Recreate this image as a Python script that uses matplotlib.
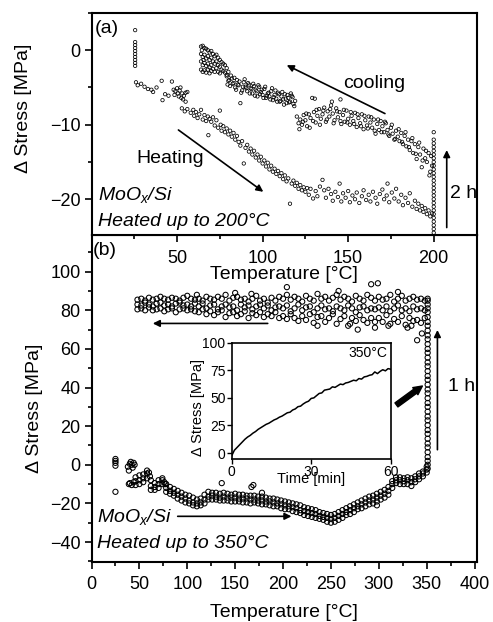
import numpy as np
import matplotlib
matplotlib.use('Agg')
import matplotlib.pyplot as plt
from matplotlib.ticker import MultipleLocator

plt.rcParams['font.family'] = ['Liberation Sans', 'DejaVu Sans']
plt.rcParams['mathtext.fontset'] = 'custom'
plt.rcParams['mathtext.it'] = 'Liberation Sans:italic'
plt.rcParams['mathtext.rm'] = 'Liberation Sans'

# ---------------- panel (a): heated up to 200 C ----------------
start_a_s = [2.7, 1.1, 0.7, 0.3, -0.1, -0.5, -0.9, -1.3, -1.7, -2.1]

heat_a_T = [26, 27, 29, 31, 33, 35, 36, 38, 41, 41.5, 43, 45,
            47, 48, 48.5, 49, 50, 50.5, 51, 51.5, 52, 52.5, 53, 53.5, 54, 55, 56, 55,
            52.8, 54.5, 56, 58, 59.5, 60, 61, 62, 63, 64, 65, 66, 67, 68, 68.3, 69, 70,
            71, 72, 73, 74, 75, 75.5, 76, 77, 78, 79, 80, 81, 82, 83, 84, 85, 86,
            87, 88, 89, 90, 91, 92, 93, 94, 95, 96, 97, 98, 99, 100, 101, 102, 103, 104, 105, 106, 107, 108, 109, 110,
            111, 112, 113, 114, 115, 116, 117, 118, 119, 120, 121, 122, 123, 124, 125, 126,
            127, 128, 129.5, 131, 132, 133.5, 135, 136, 137, 138.5, 140, 141, 142.5, 144, 145, 146, 147, 148.5, 150, 151,
            152.5, 154, 155, 156.5, 158, 159, 160.5, 162, 163, 164.5, 166, 167, 168.5, 170, 171, 172.5, 173, 174, 175.5, 177,
            178, 179.5, 181, 182, 183.5, 185, 186, 187.5, 189, 190, 191,
            192, 193, 194, 195, 196, 197, 198, 199]
heat_a_s = [-4.3, -4.7, -4.5, -4.9, -5.2, -5.3, -5.6, -5.0, -4.1, -6.7, -5.9, -6.1,
            -4.2, -5.3, -6.0, -5.5, -5.1, -5.8, -6.2, -5.4, -5.0, -6.4, -5.8, -6.6, -6.1, -5.7, -5.6, -6.9,
            -7.8, -8.2, -7.9, -8.4, -8.0, -8.8, -8.3, -9.1, -8.6, -8.0, -9.3, -8.7, -9.5, -8.9, -11.4, -9.2, -9.6,
            -9.0, -10.1, -9.4, -10.4, -8.1, -10.0, -10.8, -10.2, -11.0, -10.5, -11.3, -10.8, -11.6, -11.1, -12.0, -11.5, -12.3,
            -12.8, -12.2, -15.2, -13.1, -12.7, -13.6, -13.2, -14.0, -13.5, -14.4, -14.0, -14.8, -14.3, -15.2, -14.8, -15.6,
            -15.1, -16.0, -15.5, -16.3, -15.9, -16.6, -16.2, -16.9,
            -16.5, -17.3, -16.8, -17.6, -17.2, -20.6, -17.9, -17.5, -18.2, -17.8, -18.6, -18.1, -18.8, -18.4, -19.0, -18.5,
            -19.4, -18.6, -19.9, -18.9, -19.6, -18.3, -17.4, -18.8, -19.8, -18.6, -19.3, -20.2, -19.0, -19.7, -17.9, -20.3,
            -19.2, -19.8, -18.9, -20.4, -19.5, -20.0, -19.1, -20.5, -19.6, -18.8, -20.1, -19.4, -20.3, -19.0, -19.8, -20.6,
            -19.3, -18.7, -20.0, -19.5, -17.9, -20.4, -19.1, -19.9, -18.6, -20.3, -19.4, -20.8, -19.8, -20.5, -19.2, -21.0,
            -20.2, -21.3, -20.6,
            -21.5, -20.9, -21.7, -21.2, -22.0, -21.5, -22.3, -21.9]

hold_a_s = [-24.5, -24, -23.5, -23, -22.5, -22, -21.5, -21, -20.5, -20, -19.5, -19, -18.5, -18,
            -17.5, -17, -16.5, -16, -15.5, -15, -14.5, -14, -13.5, -13, -12.5, -12, -11]

cool_a_T = [199, 198.5, 198, 197, 196, 195, 194, 193, 192, 191, 190, 189, 188, 187, 186, 185, 184, 183, 182, 181,
            180, 179, 178, 177, 176, 175, 174, 173, 172, 171, 170, 169, 168, 167, 166, 165, 164, 163, 162, 161,
            160, 159, 158, 157, 156, 155, 154, 153, 152, 151, 150, 149, 148, 147, 146, 145, 144, 143, 142, 141,
            140, 139, 138, 137, 136, 135, 134, 133, 132, 131, 130, 129, 128, 127, 126, 125, 124, 123, 122, 121, 120,
            197.5, 195.5, 193.5, 191.5, 189.5, 187.5, 185.5, 183.5, 181.5, 179.5,
            177.5, 175.5, 173.5, 171.5, 169.5, 167.5, 165.5, 163.5, 161.5, 159.5,
            157.5, 155.5, 153.5, 151.5, 149.5, 147.5, 145.5, 143.5, 141.5, 139.5,
            137.5, 135.5, 133.5, 131.5, 129.5, 127.5, 125.5, 123.5, 121.5, 130.5, 140.5, 145.5]
cool_a_s = [-15.5, -14.2, -16.3, -13.8, -15.0, -14.5, -13.2, -15.7, -14.0, -13.0,
            -14.6, -12.6, -13.8, -12.2, -13.4, -12.0, -12.9, -11.5, -12.6, -11.1,
            -12.2, -11.6, -10.8, -12.0, -11.2, -10.4, -11.5, -10.7, -9.8, -11.0,
            -10.2, -9.5, -10.7, -9.9, -11.2, -9.3, -10.4, -9.7, -8.9, -10.1,
            -9.4, -10.6, -8.6, -9.8, -9.1, -10.3, -8.4, -9.5, -8.8, -10.0,
            -9.2, -8.1, -9.6, -8.7, -9.9, -8.3, -9.0, -7.8, -9.4, -8.5,
            -7.4, -8.9, -8.2, -9.6, -7.7, -8.6, -9.2, -7.9, -8.8, -9.7,
            -8.3, -6.4, -9.1, -8.6, -10.2, -9.4, -8.7, -10.0, -9.3, -9.8, -8.9,
            -16.8, -13.5, -14.8, -12.4, -13.9, -11.8, -13.0, -11.0, -12.3, -10.6,
            -11.9, -10.0, -11.3, -9.6, -11.0, -9.3, -10.8, -9.0, -10.5, -8.8,
            -10.2, -8.6, -9.9, -8.3, -9.7, -8.0, -9.5, -8.2, -9.8, -7.9,
            -9.3, -8.1, -10.0, -8.0, -9.5, -10.4, -8.5, -9.6, -10.6, -6.5, -6.9, -6.6]

cool_a_T2 = [119, 118, 117, 116, 115, 114, 113, 112, 111, 110, 109, 108, 107, 106, 105, 104, 103, 102, 101, 100,
             99, 98, 97, 96, 95, 94, 93, 92, 91, 90, 89, 88, 87, 86, 85, 84, 83, 82, 81, 80, 79,
             118.5, 117.5, 116.5, 115.5, 114.5, 113.5, 112.5, 111.5, 110.5, 109.5,
             108.5, 107.5, 106.5, 105.5, 104.5, 103.5, 102.5, 101.5, 100.5, 99.5,
             98.5, 97.5, 96.5, 95.5, 94.5, 93.5, 92.5, 91.5, 90.5, 89.5,
             88.5, 87.5, 86.5, 85.5, 84.5, 83.5, 82.5, 81.5, 80.5, 79.5]
cool_a_s2 = [-6.8, -7.2, -6.1, -6.9, -6.4, -7.1, -5.9, -6.6, -6.2, -6.9,
             -5.7, -6.5, -6.0, -6.7, -5.5, -6.2, -5.8, -6.4, -5.2, -6.0,
             -5.6, -4.9, -6.2, -5.3, -4.8, -5.8, -5.1, -4.6, -5.5, -4.9,
             -4.3, -5.4, -7.1, -4.7, -4.0, -5.0, -4.4, -3.8, -4.8, -4.1, -3.5,
             -7.5, -6.3, -5.8, -7.0, -6.0, -6.5, -7.3, -5.6, -6.8, -5.9,
             -6.9, -5.4, -6.3, -5.1, -6.6, -5.7, -6.1, -4.9, -6.4, -5.3,
             -5.9, -4.7, -5.5, -6.1, -4.5, -5.2, -5.8, -4.4, -5.1, -3.9,
             -4.9, -5.7, -4.2, -4.6, -5.3, -3.7, -4.5, -3.4, -4.0, -4.6]

blob_a_T = [64, 64, 64, 64, 64.5, 65, 65, 65, 65, 65.5, 66, 66, 66, 66, 67, 67, 67, 67,
            68, 68, 68, 68, 69, 69, 69, 69, 70, 70, 70, 70, 71, 71, 71, 72, 72, 72,
            73, 73, 73, 74, 74, 74, 75, 75, 75, 76, 76, 77, 77, 78, 78, 79, 79, 80]
blob_a_s = [0.5, -0.5, -1.5, -2.6, 0.0, 0.6, -0.9, -2.0, -2.9, -1.3, 0.3, -0.6, -1.7, -2.7,
            0.2, -1.1, -2.1, -3.0, 0.0, -0.8, -1.8, -2.6, -0.3, -1.3, -2.3, -3.1,
            -0.1, -1.0, -2.0, -2.8, -0.5, -1.5, -2.5, -0.8, -1.8, -2.9, -0.6, -1.5, -2.4,
            -1.0, -2.0, -2.9, -1.3, -2.2, -3.1, -1.6, -2.6, -1.8, -2.8, -2.0, -3.0, -2.4, -3.3, -2.9]

# ---------------- panel (b): heated up to 350 C ----------------
heat_b_T = [46, 50, 54, 58, 62, 66, 70, 74, 78, 82, 86, 90, 94, 98, 102, 106, 110, 114, 118, 122,
            126, 130, 134, 138, 142, 146, 150, 154, 158, 162, 166, 170, 174, 178, 182, 186, 190, 194, 198, 202,
            206, 210, 214, 218, 222, 226, 230, 234, 238, 242, 246, 250, 254, 258, 262, 266, 270, 274, 278, 282,
            286, 290, 294, 298, 302, 306, 310, 314, 318, 322, 326, 330, 334, 338, 342, 346, 350]
heat_b_mid = [-8.5, -8, -7, -4.5, -11, -11.5, -10, -8, -12, -13.5, -14.5, -15.5, -16.5, -17.5, -18.5, -19.5, -20, -19.5, -18, -16.5,
              -16, -16.5, -17, -16.5, -17, -17, -17, -17.5, -17.5, -17.5, -18, -18, -18.5, -18.5, -19, -19, -19.5, -20, -20.5, -21,
              -21.5, -22, -22.5, -23.5, -24, -24.5, -25, -25.5, -26.5, -27, -27.5, -28, -27.5, -26.5, -25.5, -24.5, -23.5, -22.5, -21.5, -20.5,
              -19.5, -18.5, -18, -17, -16, -15, -13.5, -10, -8, -8, -8.5, -8, -9, -7.5, -6, -4.5, -2.5]
heat_b_hi = [-6.5, -5.5, -5, -3, -8, -9.5, -8, -7, -10, -11.5, -12.5, -13.5, -14.5, -15.5, -16, -17, -18, -17.5, -15.5, -14,
             -14.5, -14.5, -15, -14.5, -15, -15.5, -15, -15.5, -15.5, -16, -16, -16, -16.5, -16.5, -17, -17.5, -17.5, -18, -18.5, -19,
             -19.5, -20, -20.5, -21, -22, -22.5, -23, -23.5, -24.5, -25, -25.5, -26, -25.5, -24.5, -23.5, -22.5, -21.5, -20.5, -19.5, -18.5,
             -17.5, -16.5, -16, -15, -14, -13, -11.5, -8.5, -6.5, -6.5, -7, -6.5, -7, -6, -4.5, -3.5, -1]
heat_b_lo = [-10.5, -10, -9, -7, -13, -13, -12, -10, -14, -15, -16, -17.5, -18.5, -19.5, -20, -21, -21.5, -21, -20, -18,
             -18, -18, -18.5, -18.5, -18.5, -19, -19, -19, -19.5, -19.5, -20, -19.5, -20, -20.5, -20.5, -21, -21.5, -21.5, -22.5, -23,
             -23, -24, -24.5, -25, -26, -26.5, -27, -27.5, -28, -28.5, -29.5, -30, -29.5, -28.5, -27.5, -26, -25.5, -24.5, -23, -22.5,
             -21.5, -20.5, -20, -19, -18, -17, -15.5, -12, -9.5, -10, -10, -10, -11, -9, -7.5, -6, -4]
heat_b_xT = [25, 25, 25, 25, 25, 38, 39, 40, 41, 42, 43, 44, 45, 40, 42, 44, 39, 136, 167, 169, 178, 298, 60, 61, 76, 77]
heat_b_xs = [3, 2, 1, -0.5, -14, -1, -3, 0.5, 1.5, 0, -1.5, 1, 0, -9.5, -10.5, -9, -10, -9.5, -11.5, -10.5, -14.5, -21,
             -4, -6, -9, -10]

hold_b_s = [-2, 0, 2, 4, 6.5, 9, 11, 13.5, 16, 18, 20.5, 23, 25, 27.5, 30, 32, 34.5, 37, 39, 41.5, 44, 46, 48.5,
            51, 53, 55.5, 58, 60, 62.5, 65, 67, 69.5, 72, 74, 76.5, 79, 81, 83, 85, 86]

cool_b_T = [48, 52, 56, 60, 64, 68, 72, 76, 80, 84, 88, 92, 96, 100, 104, 108,
            112, 116, 120, 124, 128, 132, 136, 140, 144, 148, 152, 156, 160, 164, 168, 172, 176, 180, 184, 188, 192, 196,
            200, 204, 208, 212, 216, 220, 224, 228, 232, 236, 240, 244, 248, 252, 256, 260, 264, 268, 272, 276, 280, 284, 288, 292, 296,
            300, 304, 308, 312, 316, 320, 324, 328, 332, 336, 340, 344, 348]
cool_b_hi = [85.5, 86, 85, 86.5, 85.5, 86, 87, 86, 85.5, 86.5, 86, 85, 86.5, 87.5, 86, 85.5,
             86, 85, 87, 86, 85.5, 87, 86, 88, 85, 86.5, 87, 85.5, 86, 84.5, 86, 87.5, 85, 86, 84, 86.5, 85, 87,
             86, 88, 85.5, 87, 86, 84.5, 87.5, 86, 85, 88.5, 86, 87, 85, 86.5, 88, 85.5, 87, 86, 84.5, 87.5, 86, 85, 88, 86.5, 85,
             87, 85.5, 86, 88, 84.5, 86, 87.5, 85, 86, 87, 85.5, 86, 85]
cool_b_mid = [83, 82.5, 84, 83, 82, 83.5, 84, 82.5, 83, 82, 83.5, 84, 82.5, 83, 82, 83.5,
              82, 83.5, 81, 82.5, 83, 80.5, 82, 83, 81.5, 82, 80, 83, 81.5, 82.5, 80.5, 82, 83, 81, 82.5, 80, 81.5, 82,
              81, 82.5, 79.5, 81, 83, 80, 81.5, 82, 79, 81, 82.5, 80.5, 81, 79.5, 82, 81, 80, 82.5, 81, 79, 81.5, 82, 80, 81, 80.5,
              81.5, 80, 82, 79.5, 81, 82.5, 80, 81, 79.5, 82, 80.5, 81, 80]
cool_b_lo = [80.5, 81, 80, 81.5, 80, 80.5, 81, 79.5, 80.5, 81, 79, 80.5, 81, 80, 80.5, 79.5,
             79, 80.5, 78, 79.5, 77.5, 79, 80, 76.5, 78.5, 79, 77, 78, 79.5, 76, 78.5, 77.5, 79, 76.5, 78, 77, 79, 76,
             77, 75.5, 78, 76, 74.5, 77, 75, 78, 73.5, 76.5, 77, 74, 76, 78, 73, 75.5, 77, 72, 76, 74.5, 77.5, 75, 73.5, 76, 74,
             76, 74, 77.5, 73, 75.5, 74, 77, 72.5, 76, 74.5, 75, 73.5, 76]
cool_b_xT = [110, 150, 167, 204, 236, 258, 270, 278, 292, 296, 299, 310, 320, 330, 334, 340, 345]
cool_b_xs = [88, 89, 88.5, 92, 72, 90, 73, 70, 93.5, 71, 94, 72, 89.5, 71, 72, 64.5, 68]

# inset: stress vs time at 350 C
inset_t = [0, 0.5, 1, 2, 3, 4, 5, 6, 7, 8, 9, 10, 11, 12, 13, 14, 15, 16, 17, 18, 19, 20,
           21, 22, 23, 24, 25, 26, 27, 28, 29, 30, 31, 32, 33, 34, 35, 36, 37, 38, 39, 40,
           41, 42, 43, 44, 45, 46, 47, 48, 49, 50, 51, 52, 53, 54, 55, 56, 57, 58, 59, 60]
inset_s = [-2.5, 0, 2.5, 5, 7.5, 10, 12.5, 14.5, 16, 18, 19.5, 21.5, 23, 24.5, 26, 27, 28.5, 30, 31, 32.5, 33.5, 35,
           36.5, 37, 39, 40, 42, 42.5, 44.5, 46, 47, 49.5, 50, 52, 54, 54.5, 57, 57.5, 58, 60, 59.5, 61,
           62.5, 62, 63.5, 64, 65, 66, 65.5, 67.5, 67, 69, 69.5, 70.5, 71, 73.5, 72, 74, 75.5, 74.5, 76.5, 76]

W, H = 493, 622
fig = plt.figure(figsize=(W / 100, H / 100), dpi=100)

# ---- panel b (drawn first, panel a labels sit on top of it) ----
axb = fig.add_axes([91.5 / W, 1 - 561.7 / H, 385 / W, 326.7 / H])
mk_b = dict(s=14, facecolors='none', edgecolors='k', linewidths=0.75)
axb.scatter(cool_b_T, cool_b_lo, **mk_b)
axb.scatter(cool_b_T, cool_b_hi, **mk_b)
axb.scatter(cool_b_T, cool_b_mid, **mk_b)
axb.scatter(cool_b_xT, cool_b_xs, **mk_b)
axb.scatter(heat_b_T, heat_b_lo, **mk_b)
axb.scatter(heat_b_T, heat_b_hi, **mk_b)
axb.scatter(heat_b_T, heat_b_mid, **mk_b)
axb.scatter(heat_b_xT, heat_b_xs, **mk_b)
axb.scatter([351] * len(hold_b_s), hold_b_s, **mk_b)

axb.set_xlim(0, 402)
axb.set_ylim(-50.2, 119)
axb.xaxis.set_major_locator(MultipleLocator(50))
axb.xaxis.set_minor_locator(MultipleLocator(25))
axb.set_yticks([-40, -20, 0, 20, 40, 60, 80, 100])
axb.yaxis.set_minor_locator(MultipleLocator(10))
axb.tick_params(which='both', direction='out', width=1.2, labelsize=13, pad=3)
axb.tick_params(which='major', length=5)
axb.tick_params(which='minor', length=3)
axb.tick_params(axis='x', pad=5)
for sp in axb.spines.values():
    sp.set_linewidth(1.5)
axb.set_xlabel('Temperature [°C]', fontsize=14, labelpad=8)
axb.set_ylabel('Δ Stress [MPa]', fontsize=14)
axb.yaxis.set_label_coords(-0.126, 0.468)

axb.text(0.035, 0.954, '(b)', transform=axb.transAxes, fontsize=14, ha='center', va='center')
axb.text(0.013, 0.138, 'MoO$_x$/Si', transform=axb.transAxes, fontsize=14, style='italic', va='center')
axb.text(0.013, 0.057, 'Heated up to 350°C', transform=axb.transAxes, fontsize=14, style='italic', va='center')
arr = dict(arrowstyle='-|>', color='k', lw=1.2, mutation_scale=10, shrinkA=0, shrinkB=0)
axb.annotate('', xy=(64, 73.2), xytext=(184, 73.2), arrowprops=arr)
axb.annotate('', xy=(208.8, -26.7), xytext=(90, -26.7), arrowprops=arr)
axb.annotate('', xy=(361.2, 69.8), xytext=(361.2, 7.8), arrowprops=arr)
axb.text(372.2, 40.5, '1 h', fontsize=14, ha='left', va='center')
axb.annotate('', xy=(345.5, 40.8), xytext=(318.4, 31),
             arrowprops=dict(arrowstyle='simple,head_length=0.7,head_width=0.7,tail_width=0.4',
                             color='k', mutation_scale=9, shrinkA=0, shrinkB=0))

# ---- inset ----
axi = fig.add_axes([231.7 / W, 1 - 459 / H, 159 / W, 116.3 / H])
axi.plot(inset_t, inset_s, color='k', lw=1.1)
axi.set_xlim(0, 60)
axi.set_ylim(-5.4, 100)
axi.set_xticks([0, 30, 60])
axi.set_yticks([0, 25, 50, 75, 100])
axi.tick_params(direction='out', length=3.5, width=1, labelsize=10, pad=1)
for sp in axi.spines.values():
    sp.set_linewidth(1.2)
axi.set_xlabel('Time [min]', fontsize=10.5)
axi.xaxis.set_label_coords(0.5, -0.115)
axi.set_ylabel('Δ Stress [MPa]', fontsize=10.5)
axi.yaxis.set_label_coords(-0.17, 0.44)
axi.text(0.98, 0.91, '350°C', transform=axi.transAxes, fontsize=10, ha='right', va='center')

# ---- panel a ----
axa = fig.add_axes([91.5 / W, 1 - 235 / H, 385 / W, 222 / H])
mk_a = dict(s=6, facecolors='none', edgecolors='k', linewidths=0.55)
axa.scatter([25.5] * len(start_a_s), start_a_s, **mk_a)
axa.scatter(heat_a_T, heat_a_s, **mk_a)
axa.scatter([200] * len(hold_a_s), hold_a_s, **mk_a)
axa.scatter(cool_a_T, cool_a_s, **mk_a)
axa.scatter(cool_a_T2, cool_a_s2, **mk_a)
axa.scatter(blob_a_T, blob_a_s, **mk_a)

axa.set_xlim(0, 225)
axa.set_ylim(-24.8, 5.0)
axa.set_xticks([50, 100, 150, 200])
axa.xaxis.set_minor_locator(MultipleLocator(25))
axa.set_yticks([-20, -10, 0])
axa.yaxis.set_minor_locator(MultipleLocator(5))
axa.tick_params(which='both', direction='out', width=1.2, labelsize=13, pad=3)
axa.tick_params(which='major', length=5)
axa.tick_params(which='minor', length=3)
axa.tick_params(axis='x', pad=6)
for sp in axa.spines.values():
    sp.set_linewidth(1.5)
axa.set_xlabel('Temperature [°C]', fontsize=14, labelpad=-1)
axa.set_ylabel('Δ Stress [MPa]', fontsize=14)
axa.yaxis.set_label_coords(-0.155, 0.572)

axa.text(0.039, 0.931, '(a)', transform=axa.transAxes, fontsize=14, ha='center', va='center')
axa.text(0.018, 0.18, 'MoO$_x$/Si', transform=axa.transAxes, fontsize=14, style='italic', va='center')
axa.text(0.018, 0.06, 'Heated up to 200°C', transform=axa.transAxes, fontsize=14, style='italic', va='center')
axa.annotate('', xy=(114.1, -2.0), xytext=(171.5, -8.5), arrowprops=arr)
axa.annotate('', xy=(100.4, -19.0), xytext=(50.8, -10.7), arrowprops=arr)
axa.annotate('', xy=(207.6, -13.4), xytext=(207.6, -23.8), arrowprops=arr)
axa.text(165, -4.5, 'cooling', fontsize=14, ha='center', va='center')
axa.text(46, -14.5, 'Heating', fontsize=14, ha='center', va='center')
axa.text(209.4, -19.2, '2 h', fontsize=14, ha='left', va='center')

fig.savefig('out.png', dpi=100)
